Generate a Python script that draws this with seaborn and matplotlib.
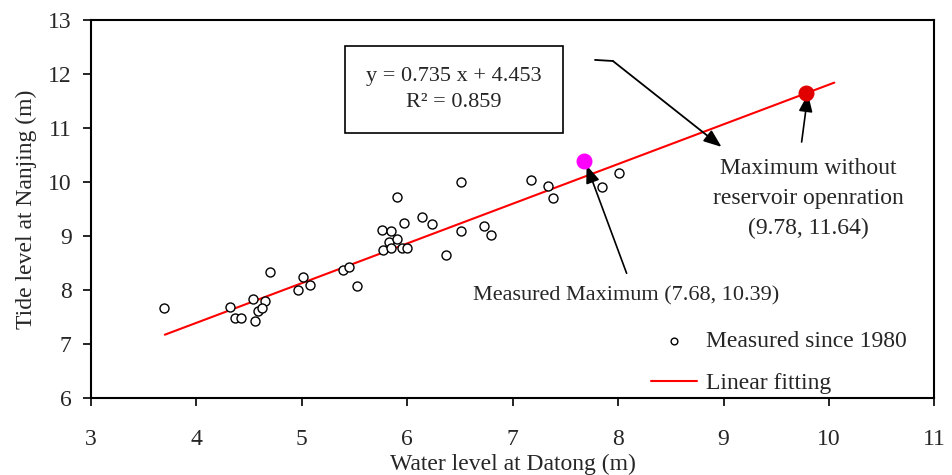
import matplotlib
matplotlib.use("Agg")
import matplotlib.pyplot as plt
import seaborn as sns
import pandas as pd
import numpy as np

# Measured data since 1980 (Water level at Datong, Tide level at Nanjing)
datong = [3.69, 4.32, 4.37, 4.42, 4.54, 4.65, 4.58, 4.62, 4.56, 4.70, 4.96, 5.01, 5.08,
          5.39, 5.45, 5.52, 5.90, 5.76, 5.85, 5.97, 5.83, 5.90, 5.77, 5.85, 5.95, 6.00,
          6.14, 6.23, 6.37, 6.51, 6.51, 6.73, 6.79, 7.17, 7.33, 7.38, 7.85, 8.01]
nanjing = [7.66, 7.69, 7.49, 7.49, 7.83, 7.79, 7.62, 7.66, 7.42, 8.34, 8.00, 8.24, 8.09,
           8.37, 8.43, 8.07, 9.73, 9.12, 9.09, 9.25, 8.89, 8.95, 8.75, 8.78, 8.78, 8.78,
           9.36, 9.22, 8.64, 10.00, 9.09, 9.19, 9.02, 10.04, 9.93, 9.70, 9.90, 10.17]

slope = 0.735
intercept = 4.453
r2 = 0.859
fit_x = [3.70, 10.05]

measured_max = (7.68, 10.39)
no_reservoir_max = (9.78, 11.64)

x_ticks = [3, 4, 5, 6, 7, 8, 9, 10, 11]
y_ticks = [6, 7, 8, 9, 10, 11, 12, 13]

sns.set_theme(style="white")
plt.rcParams['font.family'] = ['Liberation Serif', 'DejaVu Serif']

fig = plt.figure(figsize=(9.52, 4.75), dpi=100)
ax = fig.add_axes([0.0956, 0.162, 0.886, 0.796])

df = pd.DataFrame({"x": datong, "y": nanjing})
sns.scatterplot(data=df, x="x", y="y", ax=ax, marker="o", s=42,
                facecolor="white", edgecolor="black", linewidth=1.0,
                label="Measured since 1980", zorder=3)

fit_df = pd.DataFrame({"x": fit_x, "y": [slope * v + intercept for v in fit_x]})
sns.lineplot(data=fit_df, x="x", y="y", ax=ax, color="red", linewidth=1.5,
             label="Linear fitting", zorder=2)

ax.scatter([measured_max[0]], [measured_max[1]], s=110, color="#ff00ff", zorder=4)
ax.scatter([no_reservoir_max[0]], [no_reservoir_max[1]], s=110, color="#e00000", zorder=4)

ax.set_xlim(3, 11)
ax.set_ylim(6, 13)
ax.set_xticks(x_ticks)
ax.set_yticks(y_ticks)
ax.tick_params(axis="both", direction="out", length=6, width=1.2, color="black",
               labelsize=17, bottom=True, left=True)
ax.tick_params(axis="x", pad=16)
ax.tick_params(axis="y", pad=8)
for sp in ax.spines.values():
    sp.set_color("black")
    sp.set_linewidth(1.5)

ax.set_xlabel("Water level at Datong (m)", fontsize=17, labelpad=3)
ax.set_ylabel("Tide level at Nanjing (m)", fontsize=17, labelpad=8)

# Equation box
ax.text(6.44, 11.71, f"y = {slope} x + {intercept}\nR² = {r2}", ha="center", va="center",
        fontsize=16, linespacing=1.5,
        bbox=dict(boxstyle="square,pad=0.95", facecolor="white", edgecolor="black", linewidth=1.2),
        zorder=5)
ax.plot([7.78, 7.95], [12.26, 12.24], color="black", linewidth=1.3, zorder=5)
ax.annotate("", xy=(8.98, 10.65), xytext=(7.95, 12.24),
            arrowprops=dict(arrowstyle="-|>,head_length=0.9,head_width=0.35",
                            color="black", linewidth=1.3, shrinkA=0, shrinkB=0))

# Measured maximum
ax.annotate("", xy=(7.70, 10.31), xytext=(8.08, 8.31),
            arrowprops=dict(arrowstyle="-|>,head_length=0.9,head_width=0.35",
                            color="black", linewidth=1.2, shrinkA=0, shrinkB=0))
ax.text(8.08, 7.90, f"Measured Maximum ({measured_max[0]}, {measured_max[1]})",
        ha="center", va="center", fontsize=16)

# Maximum without reservoir
ax.annotate("", xy=(9.80, 11.63), xytext=(9.74, 10.74),
            arrowprops=dict(arrowstyle="-|>,head_length=0.9,head_width=0.35",
                            color="black", linewidth=1.2, shrinkA=0, shrinkB=0))
ax.text(9.80, 9.70, f"Maximum without\nreservoir openration\n({no_reservoir_max[0]}, {no_reservoir_max[1]})",
        ha="center", va="center", fontsize=17, linespacing=1.55)

leg = ax.legend(loc="lower right", bbox_to_anchor=(0.992, -0.045), frameon=False, fontsize=17,
                handlelength=1.95, labelspacing=0.85, handletextpad=0.35, markerscale=0.75)

fig.savefig("out.png", dpi=100)
